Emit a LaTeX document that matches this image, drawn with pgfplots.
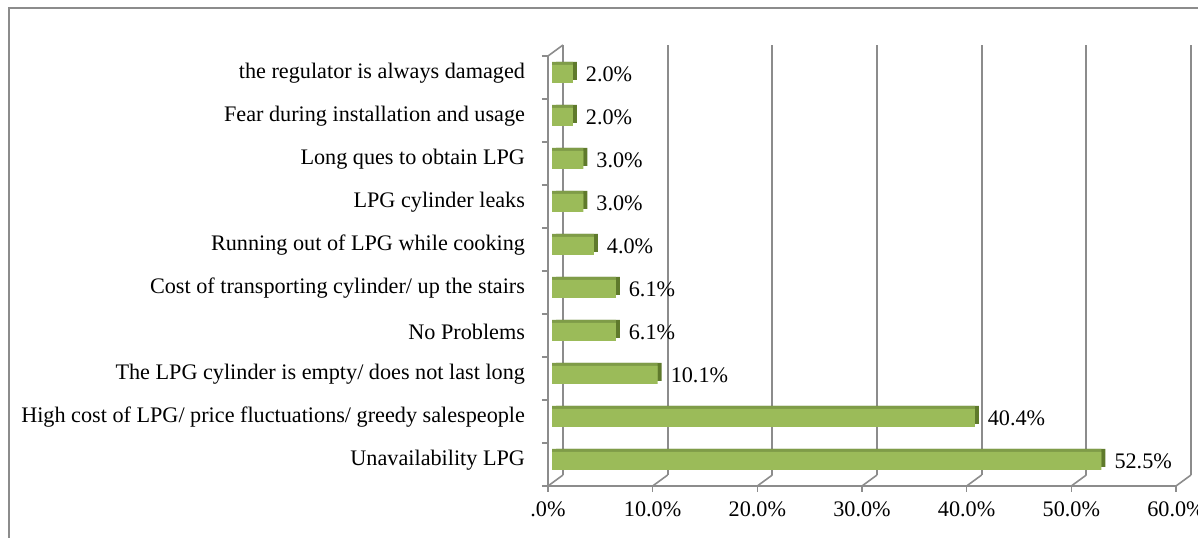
\documentclass[border=0pt]{standalone}
\usepackage{fontspec}
\setmainfont{Liberation Serif}
\usepackage{pgfplots}
\pgfplotsset{compat=1.18}
\definecolor{barfront}{HTML}{9BBB59}
\definecolor{bartop}{HTML}{7F9C48}
\definecolor{barside}{HTML}{5F7A2C}
\definecolor{gridc}{HTML}{8C8C8C}
\newcommand{\lfont}{\fontsize{11.1bp}{13bp}\selectfont}
\begin{document}
\begin{tikzpicture}
\useasboundingbox (0,0) rectangle (599bp,269bp);
\clip (0,0) rectangle (599bp,269bp);
\draw[gridc, line width=0.9bp] (4.5bp,-10bp) -- (4.5bp,265bp) -- (610bp,265bp);
\begin{axis}[
  at={(274bp,26bp)}, anchor=south west,
  scale only axis, width=314bp, height=215bp,
  xmin=0, xmax=60, ymin=0.5, ymax=10.5,
  axis x line*=bottom, axis y line*=left,
  axis line style={gridc, line width=0.8bp},
  /pgf/number format/assume math mode=true,
  tick align=outside,
  major tick length=3bp,
  tick style={gridc, line width=0.8bp},
  xtick={0,10,20,30,40,50,60},
  xticklabels={.0\%,10.0\%,20.0\%,30.0\%,40.0\%,50.0\%,60.0\%},
  xticklabel style={font=\lfont, yshift=-1.5bp},
  ytick={0.5,1.5,2.5,3.5,4.5,5.5,6.5,7.5,8.5,9.5,10.5},
  yticklabels={},
  extra y ticks={1,2,3,4,5,6,7,8,9,10},
  extra y tick labels={Unavailability LPG\hspace{3.5bp},
    High cost of LPG/ price fluctuations/ greedy salespeople\hspace{3.5bp},
    The LPG cylinder is empty/ does not last long,
    No Problems,
    Cost of transporting cylinder/ up the stairs,
    Running out of LPG while cooking,
    LPG cylinder leaks\hspace{3.5bp},
    Long ques to obtain LPG,
    Fear during installation and usage,
    the regulator is always damaged},
  extra y tick style={tick style={draw=none}, yticklabel style={font=\lfont, xshift=-5bp, yshift=2bp}},
  xmajorgrids,
  major x grid style={gridc, line width=1bp, xshift=7.5bp, yshift=5.5bp},
  clip=false,
]
\addplot[xbar, bar shift=0pt, bar width=9bp, fill=barside, draw=none, xshift=4bp, yshift=3.25bp]
  coordinates {(52.5,1) (40.4,2) (10.1,3) (6.1,4) (6.1,5) (4.0,6) (3.0,7) (3.0,8) (2.0,9) (2.0,10)};
\addplot[xbar, bar shift=0pt, bar width=9bp, fill=bartop, draw=none, xshift=2bp, yshift=3.25bp]
  coordinates {(52.5,1) (40.4,2) (10.1,3) (6.1,4) (6.1,5) (4.0,6) (3.0,7) (3.0,8) (2.0,9) (2.0,10)};
\addplot[xbar, bar shift=0pt, bar width=9bp, fill=barfront, draw=none, xshift=2bp, yshift=1.75bp,
  point meta=x,
  nodes near coords={\pgfmathprintnumber[fixed,fixed zerofill,precision=1]{\pgfplotspointmeta}\%},
  every node near coord/.append style={font=\lfont, anchor=west, xshift=3bp, text=black}]
  coordinates {(52.5,1) (40.4,2) (10.1,3) (6.1,4) (6.1,5) (4.0,6) (3.0,7) (3.0,8) (2.0,9) (2.0,10)};
\pgfplotsinvokeforeach{0,10,20,30,40,50,60}{
  \draw[gridc, line width=0.8bp] (axis cs:#1,0.5) -- ++(7.5bp,5.5bp);
}
\draw[gridc, line width=0.8bp] (axis cs:0,10.5) -- ++(7.5bp,5.5bp);
\end{axis}
\end{tikzpicture}
\end{document}
